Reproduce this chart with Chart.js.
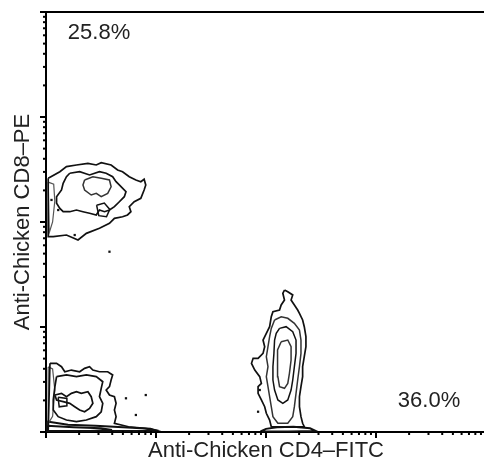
<!DOCTYPE html>
<html><head><meta charset="utf-8">
<script src="https://cdn.jsdelivr.net/npm/chart.js@4/dist/chart.umd.min.js"></script>
<style>
html,body{margin:0;padding:0;overflow:hidden;background:#fff;width:484px;height:464px}
#wrap{position:absolute;left:0;top:0;width:490px;height:464px}
</style>
</head><body><div id="wrap"><canvas id="c" width="490" height="464"></canvas></div>
<script>
// All values are log10 fluorescence intensity (decades 0..4): [CD4-FITC, CD8-PE]
const xTitle = "Anti-Chicken CD4\u2013FITC";
const yTitle = "Anti-Chicken CD8\u2013PE";
const quadrantLabels = ["25.8%", "36.0%"];
const majorDecades = [0, 1, 2, 3, 4];
const minorMultipliers = [2, 3, 4, 5, 6, 7, 8, 9];

// CD8+ population (upper left)
const cd8Outer = [[.02,2.416],[.126,2.479],[.186,2.527],[.277,2.543],[.381,2.559],[.457,2.543],[.502,2.565],[.592,2.543],[.651,2.495],[.696,2.479],[.757,2.431],[.817,2.4],[.862,2.384],[.892,2.407],[.907,2.352],[.892,2.305],[.862,2.226],[.802,2.193],[.757,2.146],[.772,2.098],[.741,2.067],[.696,2.05],[.622,2.035],[.577,1.988],[.486,1.94],[.367,1.892],[.291,1.829],[.186,1.876],[.066,1.86],[.02,1.86]];
const cd8Middle = [[.216,2.464],[.306,2.479],[.396,2.448],[.486,2.479],[.547,2.464],[.606,2.431],[.637,2.384],[.682,2.336],[.727,2.289],[.712,2.241],[.667,2.193],[.622,2.146],[.577,2.114],[.532,2.098],[.486,2.114],[.457,2.067],[.396,2.083],[.336,2.098],[.277,2.114],[.216,2.098],[.156,2.098],[.126,2.13],[.096,2.178],[.096,2.241],[.141,2.305],[.156,2.368],[.186,2.431]];
const cd8Inner = [[.351,2.4],[.426,2.431],[.502,2.416],[.577,2.4],[.592,2.336],[.561,2.273],[.502,2.241],[.457,2.273],[.411,2.257],[.351,2.305],[.336,2.352]];
const cd8Knot = [[.46,2.16],[.53,2.18],[.58,2.12],[.55,2.05],[.48,2.06]];
const cd8AxisEdge = [[.02,2.38],[.07,2.36],[.08,2.2],[.06,2.0],[.03,1.9]];

// Double negative population (lower left)
const dnOuter = [[.036,.654],[.096,.654],[.141,.622],[.171,.574],[.231,.59],[.306,.574],[.351,.606],[.396,.622],[.426,.59],[.486,.574],[.561,.574],[.606,.543],[.592,.495],[.577,.432],[.547,.4],[.577,.352],[.622,.336],[.637,.273],[.622,.21],[.637,.146],[.622,.083],[.75,.05],[.9,.035],[.98,.02],[.9,.01],[.5,.01],[.02,.01]];
const dnMiddle = [[.096,.527],[.186,.543],[.277,.527],[.367,.543],[.457,.527],[.516,.479],[.502,.416],[.486,.336],[.516,.273],[.502,.193],[.457,.146],[.367,.114],[.277,.098],[.186,.114],[.111,.146],[.066,.21],[.066,.305],[.081,.432]];
const dnInner = [[.081,.352],[.141,.368],[.186,.336],[.231,.368],[.277,.384],[.321,.368],[.381,.384],[.411,.336],[.426,.273],[.396,.225],[.351,.193],[.306,.21],[.261,.241],[.216,.273],[.156,.289],[.096,.305]];
const dnKnot = [[.11,.33],[.19,.32],[.19,.25],[.12,.24]];
const dnAxisEdge = [[.02,.62],[.06,.6],[.08,.4],[.06,.15],[.02,.08]];
const dnBandOuter = [[.01,.1],[.2,.07],[.45,.06],[.7,.045],[.95,.03],[1.0,.015],[.9,.005],[.3,.005],[.01,.005]];
const dnBandInner = [[.01,.06],[.25,.045],[.5,.035],[.6,.02],[.4,.01],[.01,.01]];

// CD4+ population (lower middle)
const cd4Outer = [[2.168,1.352],[2.198,1.336],[2.243,1.305],[2.228,1.257],[2.258,1.21],[2.288,1.162],[2.304,1.13],[2.333,1.067],[2.348,1.003],[2.363,.908],[2.363,.812],[2.348,.717],[2.333,.622],[2.333,.527],[2.318,.432],[2.304,.336],[2.304,.241],[2.318,.146],[2.333,.083],[2.348,.05],[2.048,.05],[2.033,.114],[2.003,.178],[1.988,.241],[1.958,.305],[1.928,.368],[1.928,.432],[1.958,.463],[1.943,.527],[1.898,.59],[1.868,.654],[1.883,.702],[1.928,.702],[1.973,.749],[1.988,.812],[1.973,.876],[2.003,.94],[2.033,1.003],[2.048,1.098],[2.063,1.146],[2.123,1.162],[2.138,1.21],[2.168,1.257],[2.153,1.321]];
const cd4Ring2 = [[2.078,1.067],[2.138,1.098],[2.198,1.083],[2.258,1.035],[2.304,.971],[2.318,.876],[2.318,.749],[2.304,.622],[2.288,.495],[2.273,.368],[2.258,.241],[2.243,.146],[2.198,.083],[2.108,.083],[2.063,.146],[2.048,.241],[2.033,.336],[2.018,.432],[2.003,.527],[2.018,.622],[2.003,.717],[2.018,.812],[2.033,.908],[2.048,.987]];
const cd4Ring3 = [[2.123,.987],[2.183,1.003],[2.243,.955],[2.273,.876],[2.273,.749],[2.258,.622],[2.243,.495],[2.228,.4],[2.198,.305],[2.153,.273],[2.108,.305],[2.078,.4],[2.063,.495],[2.063,.622],[2.072,.749],[2.078,.876],[2.093,.94]];
const cd4Inner = [[2.138,.86],[2.198,.876],[2.228,.812],[2.228,.686],[2.213,.559],[2.198,.463],[2.168,.416],[2.123,.432],[2.108,.527],[2.102,.654],[2.108,.781]];
const cd4Base = [[1.95,.005],[2.0,.03],[2.1,.045],[2.25,.05],[2.4,.035],[2.45,.01],[2.2,.005]];

// isolated events
const events = [[.05,2.21],[.111,2.114],[.261,1.876],[.577,1.717],[.727,.321],[.907,.352],[.817,.162],[1.928,.193],[1.943,.4]];

function ring(pts, color, width) {
  return { type: 'scatter', data: pts.concat([pts[0]]).map(p => ({x: p[0], y: p[1]})),
    showLine: true, borderColor: color, borderWidth: width, pointRadius: 0, fill: false, tension: 0 };
}

const ink = '#111';
const datasets = [
  ring(cd8Outer, ink, 1.7), ring(cd8Middle, ink, 1.7), ring(cd8Inner, '#333', 1.5),
  ring(cd8Knot, ink, 1.5), ring(cd8AxisEdge, '#555', 1.2),
  ring(dnOuter, ink, 1.7), ring(dnMiddle, ink, 1.7), ring(dnInner, ink, 1.7),
  ring(dnKnot, ink, 1.5), ring(dnAxisEdge, '#555', 1.2),
  ring(dnBandOuter, ink, 2), ring(dnBandInner, ink, 2),
  ring(cd4Outer, ink, 1.7), ring(cd4Ring2, '#333', 1.5), ring(cd4Ring3, ink, 1.5), ring(cd4Inner, '#333', 1.5),
  ring(cd4Base, ink, 2),
  { type: 'scatter', data: events.map(p => ({x: p[0], y: p[1]})), pointStyle: 'rect',
    pointRadius: 1.6, backgroundColor: ink, borderColor: ink, borderWidth: 0, showLine: false }
];

const font = "'Liberation Sans', Arial, Helvetica, sans-serif";

const decorPlugin = {
  id: 'decor',
  afterDraw(chart) {
    const ctx = chart.ctx, xs = chart.scales.x, ys = chart.scales.y;
    const ax = chart.chartArea;
    ctx.save();
    ctx.strokeStyle = '#000';
    ctx.lineWidth = 2;
    majorDecades.forEach(n => {
      const px = xs.getPixelForValue(n);
      ctx.beginPath(); ctx.moveTo(px, ax.bottom); ctx.lineTo(px, ax.bottom + 6); ctx.stroke();
      const py = ys.getPixelForValue(n);
      ctx.beginPath(); ctx.moveTo(ax.left, py); ctx.lineTo(ax.left - 6, py); ctx.stroke();
      if (n < 4) {
        minorMultipliers.forEach(m => {
          const v = n + Math.log10(m);
          const mx = xs.getPixelForValue(v);
          ctx.beginPath(); ctx.moveTo(mx, ax.bottom - 1); ctx.lineTo(mx, ax.bottom + 3); ctx.stroke();
          const my = ys.getPixelForValue(v);
          ctx.beginPath(); ctx.moveTo(ax.left + 1, my); ctx.lineTo(ax.left - 3, my); ctx.stroke();
        });
      }
    });
    ctx.fillStyle = '#222';
    ctx.font = '22px ' + font;
    ctx.textAlign = 'center';
    ctx.textBaseline = 'middle';
    const anchors = chart.options.plugins.decor.anchors;
    quadrantLabels.forEach((t, i) => {
      ctx.fillText(t, xs.getPixelForValue(anchors[i][0]), ys.getPixelForValue(anchors[i][1]));
    });
    ctx.restore();
  }
};

new Chart(document.getElementById('c'), {
  type: 'scatter',
  data: { datasets },
  options: {
    responsive: false, animation: false, devicePixelRatio: 1,
    layout: { padding: { top: 12, right: 0, left: 0, bottom: 0 } },
    plugins: { legend: { display: false }, tooltip: { enabled: false },
      decor: { anchors: [[0.482, 3.8], [3.482, 0.3]] } },
    scales: {
      x: { type: 'linear', min: 0, max: 4, position: 'bottom',
        grid: { display: false, drawTicks: false },
        border: { display: true, color: '#000', width: 2 },
        ticks: { display: false },
        title: { display: true, text: xTitle, color: '#222', font: { family: font, size: 22 }, padding: { top: 0, bottom: 0 } },
        afterFit: s => { s.height = 32; } },
      xTop: { type: 'linear', min: 0, max: 4, position: 'top',
        grid: { display: false, drawTicks: false },
        border: { display: true, color: '#000', width: 2 },
        ticks: { display: false },
        afterFit: s => { s.height = 0; } },
      y: { type: 'linear', min: 0, max: 4, position: 'left',
        grid: { display: false, drawTicks: false },
        border: { display: true, color: '#000', width: 2 },
        ticks: { display: false },
        title: { display: true, text: yTitle, color: '#222', font: { family: font, size: 22 }, padding: { top: 10, bottom: 0 } },
        afterFit: s => { s.width = 46; } }
    }
  },
  plugins: [decorPlugin]
});
</script>
</body></html>
